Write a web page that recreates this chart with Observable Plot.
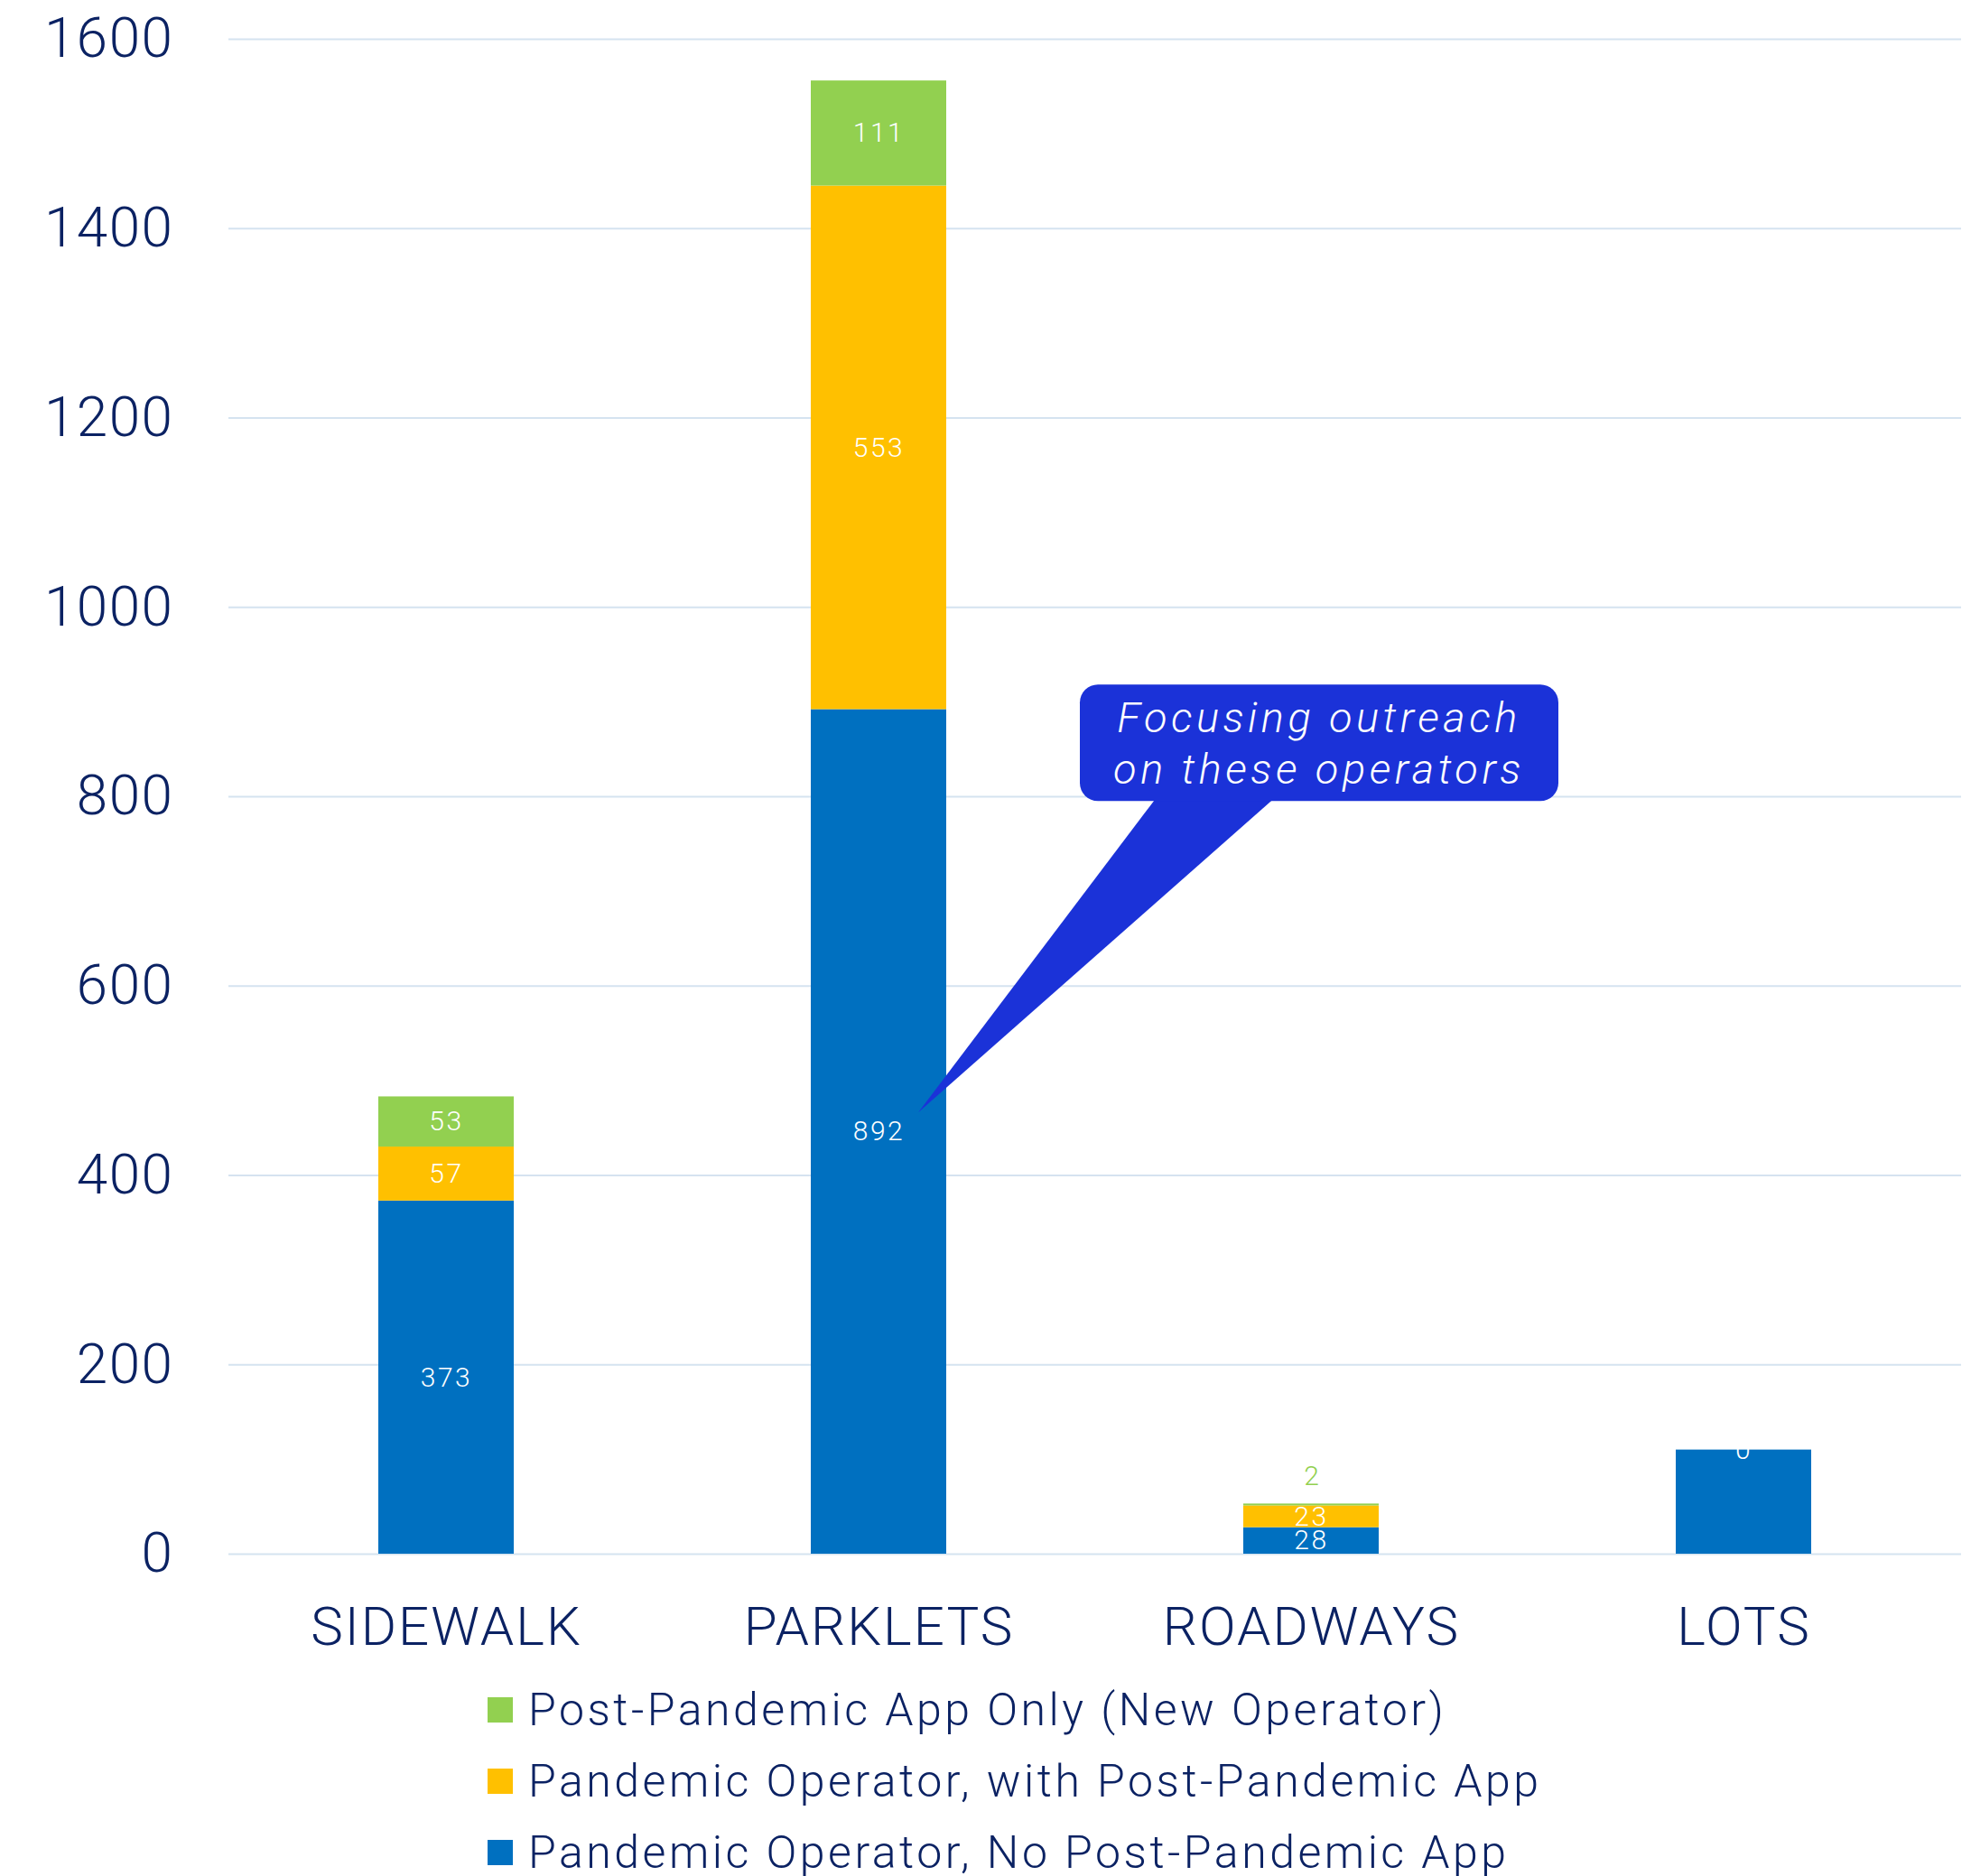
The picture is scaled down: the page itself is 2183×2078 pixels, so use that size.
<!DOCTYPE html>
<html><head><meta charset="utf-8">
<script src="https://cdn.jsdelivr.net/npm/d3@7"></script>
<script src="https://cdn.jsdelivr.net/npm/@observablehq/plot@0.6"></script>
<style>
body{margin:0;background:#fff;font-family:Roboto,sans-serif;}
#legend{padding-left:540px;padding-top:4px;}
.row{display:flex;align-items:center;height:79px;font-size:50px;color:#0b2263;letter-spacing:3.5px;font-weight:300;}
.sw{width:28px;height:28px;margin-right:17px;flex:none;}
g[aria-label="x-axis tick label"] text{letter-spacing:2px;}
g[aria-label="y-axis tick label"] text{letter-spacing:1.5px;}
g.vlabel text{letter-spacing:2.5px;}
</style></head><body>
<div id="chart"></div><div id="legend"></div>
<script>
const categories = ["SIDEWALK", "PARKLETS", "ROADWAYS", "LOTS"];
const seriesNames = [
  "Pandemic Operator, No Post-Pandemic App",
  "Pandemic Operator, with Post-Pandemic App",
  "Post-Pandemic App Only (New Operator)"
];
const noPostApp = [373, 892, 28, 110];
const withPostApp = [57, 553, 23, 0];
const newOperator = [53, 111, 2, 0];
const noPostAppLabels = ["373", "892", "28", ""];
const withPostAppLabels = ["57", "553", "23", "0"];
const newOperatorLabels = ["53", "111", "2", ""];
const seriesColors = ["#0070C0", "#FFC000", "#92D050"];
const yTicks = [0, 200, 400, 600, 800, 1000, 1200, 1400, 1600];
const calloutLines = ["Focusing outreach", "on these operators"];
const calloutTarget = {category: "PARKLETS", value: 466};
const calloutBox = {category: "ROADWAYS", top: 918, bottom: 795};

const navy = "#0b2263";
const values = [noPostApp, withPostApp, newOperator];
const labels = [noPostAppLabels, withPostAppLabels, newOperatorLabels];
const rows = [];
categories.forEach((cat, i) => {
  let cum = 0;
  values.forEach((vals, s) => {
    const v = vals[i];
    rows.push({cat, series: seriesNames[s], color: seriesColors[s], y1: cum, y2: cum + v, mid: cum + v / 2,
      label: labels[s][i], small: v > 0 && v < 10});
    cum += v;
  });
});

const chart = Plot.plot({
  width: 2183, height: 1850,
  marginTop: 43, marginBottom: 129, marginLeft: 253, marginRight: 11,
  style: {fontFamily: "Roboto, sans-serif", color: navy, background: "white"},
  x: {domain: categories, paddingInner: 0.6875, paddingOuter: 0.343, label: null},
  y: {domain: [0, 1600], label: null},
  color: {domain: seriesNames, range: seriesColors},
  marks: [
    Plot.gridY(yTicks, {stroke: "#d5e3f0", strokeOpacity: 1, strokeWidth: 2}),
    Plot.barY(rows, {x: "cat", y1: "y1", y2: "y2", fill: "series"}),
    Plot.text(rows.filter(d => !d.small && d.label), {x: "cat", y: "mid", text: "label", fill: "white", fontSize: 30, fontWeight: 300, className: "vlabel"}),
    Plot.text(rows.filter(d => d.small), {x: "cat", y: "y2", dy: -31, text: "label", fill: d => d.color, fontSize: 30, fontWeight: 300}),
    Plot.axisY({ticks: yTicks, tickFormat: d3.format("d"), tickSize: 0, tickPadding: 61, fontSize: 62, fontWeight: 300, label: null}),
    Plot.axisX({tickSize: 0, tickPadding: 58, fontSize: 60, fontWeight: 300, label: null})
  ]
});
document.getElementById("chart").appendChild(chart);

// callout annotation
const xs = chart.scale("x"), ys = chart.scale("y");
const bw = xs.bandwidth;
const boxCx = xs.apply(calloutBox.category) + bw / 2 + 9;
const boxL = boxCx - 265, boxR = boxCx + 265;
const boxT = ys.apply(calloutBox.top), boxB = ys.apply(calloutBox.bottom);
const tipX = xs.apply(calloutTarget.category) + bw / 2 + 44;
const tipY = ys.apply(calloutTarget.value);
const g = d3.select(chart).append("g");
const fill = "#1b32d8";
g.append("path")
  .attr("d", `M${boxL + 88},${boxB - 8}L${boxL + 221},${boxB - 8}L${tipX},${tipY}Z`)
  .attr("fill", fill);
g.append("rect").attr("x", boxL).attr("y", boxT).attr("width", boxR - boxL).attr("height", boxB - boxT)
  .attr("rx", 20).attr("fill", fill);
calloutLines.forEach((t, i) => {
  g.append("text").attr("x", boxCx).attr("y", boxT + 53 + i * 57)
    .attr("text-anchor", "middle").attr("fill", "white").attr("font-style", "italic")
    .attr("font-weight", 300)
    .attr("font-size", 47).attr("letter-spacing", 4.5).text(t);
});

// legend
const legend = d3.select("#legend");
[2, 1, 0].forEach(s => {
  const r = legend.append("div").attr("class", "row");
  r.append("div").attr("class", "sw").style("background", seriesColors[s]);
  r.append("span").text(seriesNames[s]);
});
</script></body></html>
